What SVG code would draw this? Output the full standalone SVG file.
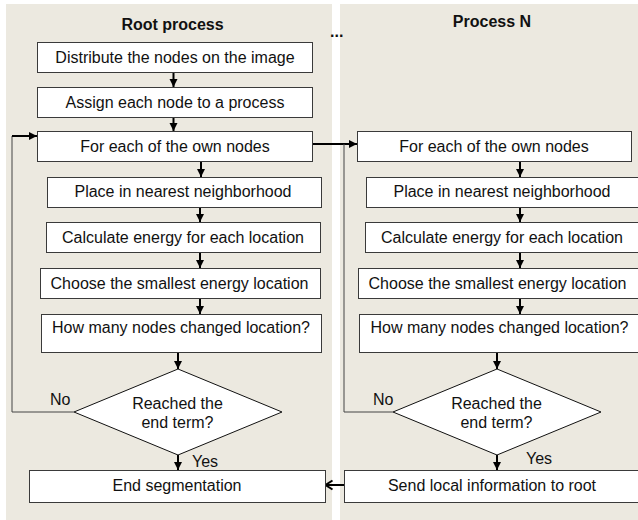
<svg xmlns="http://www.w3.org/2000/svg" width="638" height="520" viewBox="0 0 638 520">
  <defs>
    <style>
      .panel { fill: #ECE9E0; }
      .box { fill: #FFFFFF; stroke: #3A3A3A; stroke-width: 1; }
      .dia { fill: #FFFFFF; stroke: #111111; stroke-width: 1; }
      .lbl { font-family: "Liberation Sans", Arial, sans-serif; font-size: 16px; fill: #111111; text-anchor: middle; }
      .ttl { font-family: "Liberation Sans", Arial, sans-serif; font-size: 16px; font-weight: bold; fill: #111111; text-anchor: middle; }
      .tag { font-family: "Liberation Sans", Arial, sans-serif; font-size: 16px; fill: #111111; }
      .flow { fill: none; stroke: #000000; stroke-width: 2; }
      .back { fill: none; stroke: #444444; stroke-width: 1; }
    </style>
    <marker id="head" markerUnits="userSpaceOnUse" markerWidth="10" markerHeight="10" refX="9" refY="5" orient="auto">
      <path d="M1,1 L9,5 L1,9 Z" fill="#000000"/>
    </marker>
    <marker id="open" markerUnits="userSpaceOnUse" markerWidth="12" markerHeight="12" refX="10" refY="6" orient="auto">
      <path d="M3,1.5 L10,6 L3,10.5" fill="none" stroke="#000000" stroke-width="2"/>
    </marker>
  </defs>

  <!-- swimlane backgrounds -->
  <rect class="panel" x="6" y="4" width="326" height="516"/>
  <rect class="panel" x="340" y="4" width="298" height="516"/>

  <text class="ttl" x="172.5" y="29.5">Root process</text>
  <text class="ttl" x="492" y="26.5">Process N</text>
  <text class="tag" x="330" y="37" font-weight="bold">...</text>

  <!-- connectors -->
  <g id="connectors">
    <path class="flow" d="M173.5,72 V87" marker-end="url(#head)"/>
    <path class="flow" d="M173.5,117 V131" marker-end="url(#head)"/>
    <path class="flow" d="M201,162 V177" marker-end="url(#head)"/>
    <path class="flow" d="M200,207 V222" marker-end="url(#head)"/>
    <path class="flow" d="M200,252 V268" marker-end="url(#head)"/>
    <path class="flow" d="M200,298 V314" marker-end="url(#head)"/>
    <path class="flow" d="M178,352 V369" marker-end="url(#head)"/>
    <path class="flow" d="M178,455 V470" marker-end="url(#head)"/>
    <path class="back" d="M74,412 H12 V136"/>
    <path class="flow" d="M12,136 H37" marker-end="url(#head)"/>

    <path class="flow" d="M312,144 H357" marker-end="url(#head)"/>
    <path class="back" d="M393,412 H344 V144"/>
    <path class="flow" d="M520,162 V177" marker-end="url(#head)"/>
    <path class="flow" d="M520,207 V222" marker-end="url(#head)"/>
    <path class="flow" d="M520,252 V268" marker-end="url(#head)"/>
    <path class="flow" d="M520,298 V314" marker-end="url(#head)"/>
    <path class="flow" d="M497,352 V369" marker-end="url(#head)"/>
    <path class="flow" d="M497,455 V470" marker-end="url(#head)"/>
    <path class="flow" d="M344,485 H325.5" marker-end="url(#open)"/>

    <text class="tag" x="50" y="405">No</text>
    <text class="tag" x="192" y="467">Yes</text>
    <text class="tag" x="373" y="405">No</text>
    <text class="tag" x="526" y="464">Yes</text>
  </g>

  <!-- root process -->
  <g id="distribute">
    <rect class="box" x="37.5" y="42.5" width="275" height="30"/>
    <text class="lbl" x="175" y="63">Distribute the nodes on the image</text>
  </g>
  <g id="assign">
    <rect class="box" x="37.5" y="87.5" width="275" height="30"/>
    <text class="lbl" x="175" y="108">Assign each node to a process</text>
  </g>
  <g id="foreach-root">
    <rect class="box" x="37.5" y="131.5" width="275" height="30"/>
    <text class="lbl" x="175" y="152">For each of the own nodes</text>
  </g>
  <g id="place-root">
    <rect class="box" x="47.5" y="177.5" width="274" height="30"/>
    <text class="lbl" x="183" y="197">Place in nearest neighborhood</text>
  </g>
  <g id="energy-root">
    <rect class="box" x="46.5" y="222.5" width="274" height="30"/>
    <text class="lbl" x="183" y="243">Calculate energy for each location</text>
  </g>
  <g id="choose-root">
    <rect class="box" x="40.5" y="268.5" width="280" height="30"/>
    <text class="lbl" x="179.5" y="289">Choose the smallest energy location</text>
  </g>
  <g id="count-root">
    <rect class="box" x="41.5" y="314.5" width="280" height="38"/>
    <text class="lbl" x="181" y="333">How many nodes changed location?</text>
  </g>
  <g id="decide-root">
    <polygon class="dia" points="178,369 282,412 178,455 74,412"/>
    <text class="lbl" x="177.5" y="409">Reached the</text>
    <text class="lbl" x="177.5" y="428">end term?</text>
  </g>
  <g id="end-root">
    <rect class="box" x="29.5" y="470.5" width="296" height="32"/>
    <text class="lbl" x="177" y="491">End segmentation</text>
  </g>

  <!-- process N -->
  <g id="foreach-n">
    <rect class="box" x="357.5" y="131.5" width="274" height="30"/>
    <text class="lbl" x="494" y="152">For each of the own nodes</text>
  </g>
  <g id="place-n">
    <rect class="box" x="366.5" y="177.5" width="274" height="30"/>
    <text class="lbl" x="502" y="197">Place in nearest neighborhood</text>
  </g>
  <g id="energy-n">
    <rect class="box" x="365.5" y="222.5" width="274" height="30"/>
    <text class="lbl" x="502" y="243">Calculate energy for each location</text>
  </g>
  <g id="choose-n">
    <rect class="box" x="358.5" y="268.5" width="280" height="30"/>
    <text class="lbl" x="497.5" y="289">Choose the smallest energy location</text>
  </g>
  <g id="count-n">
    <rect class="box" x="359.5" y="314.5" width="280" height="38"/>
    <text class="lbl" x="499.5" y="333">How many nodes changed location?</text>
  </g>
  <g id="decide-n">
    <polygon class="dia" points="497,369 601,412 497,455 393,412"/>
    <text class="lbl" x="496.5" y="409">Reached the</text>
    <text class="lbl" x="496.5" y="428">end term?</text>
  </g>
  <g id="send-n">
    <rect class="box" x="344.5" y="470.5" width="296" height="32"/>
    <text class="lbl" x="492" y="491">Send local information to root</text>
  </g>
</svg>
